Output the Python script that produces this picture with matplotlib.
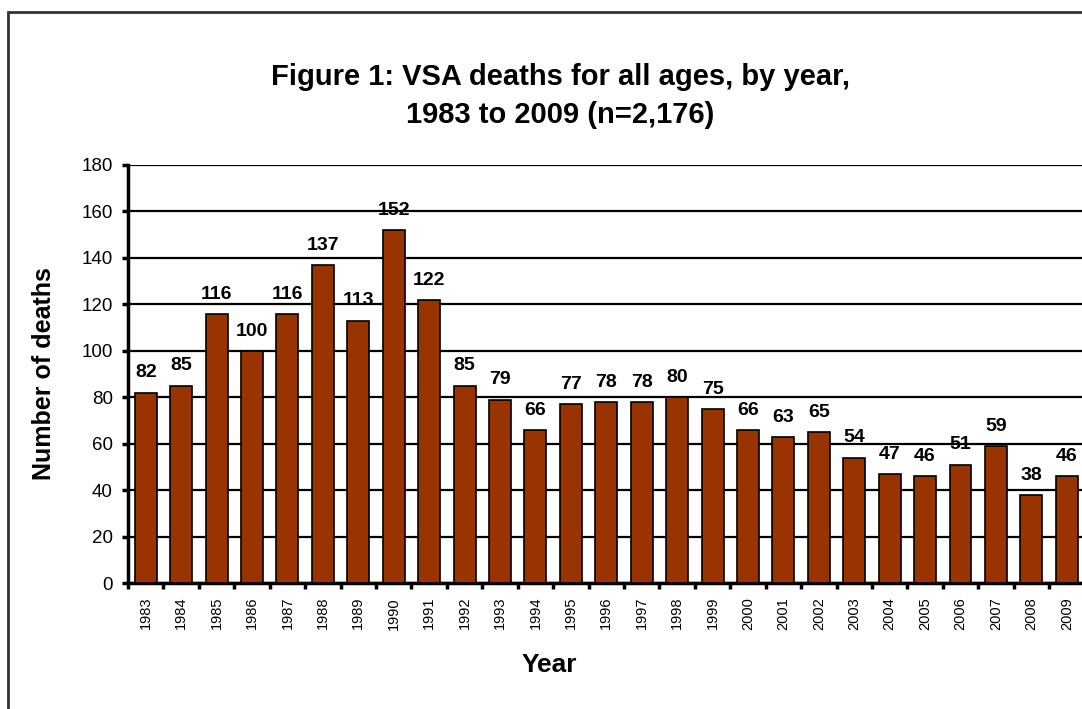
import matplotlib

matplotlib.use("Agg")
import matplotlib.patches as patches
import matplotlib.pyplot as plt
import numpy as np

years = [str(y) for y in range(1983, 2010)]
deaths = [82, 85, 116, 100, 116, 137, 113, 152, 122, 85, 79, 66, 77, 78,
          78, 80, 75, 66, 63, 65, 54, 47, 46, 51, 59, 38, 46]
y_ticks = [0, 20, 40, 60, 80, 100, 120, 140, 160, 180]

title = "Figure 1: VSA deaths for all ages, by year,\n1983 to 2009 (n=2,176)"
bar_color = "#993300"

plt.rcParams["font.family"] = ["Liberation Sans", "DejaVu Sans"]


def main():
    fig = plt.figure(figsize=(10.82, 7.09), dpi=100)
    ax = fig.add_axes([0.1183, 0.1777, 0.884, 0.5896])

    x = np.arange(len(years))
    bars = ax.bar(x, deaths, width=0.62, color=bar_color,
                  edgecolor="black", linewidth=1.2, zorder=3)
    for rect, val in zip(bars, deaths):
        ax.annotate(str(val), (rect.get_x() + rect.get_width() / 2, val),
                    xytext=(0, 8), textcoords="offset points",
                    ha="center", va="bottom", fontsize=14,
                    fontweight="bold", zorder=4)

    ax.set_xlim(-0.5, len(years) - 0.5)
    ax.set_ylim(0, 180)
    ax.set_yticks(y_ticks)
    ax.set_yticklabels([str(t) for t in y_ticks], fontsize=13.5)
    ax.yaxis.grid(True, color="black", linewidth=1.6, zorder=0)
    ax.set_axisbelow(True)

    ax.set_xticks(x)
    ax.set_xticklabels(years, rotation=90, fontsize=10.5)
    ax.set_xticks(np.arange(-0.5, len(years), 1.0), minor=True)
    ax.tick_params(axis="x", which="major", length=0, pad=10)
    ax.tick_params(axis="x", which="minor", length=4, width=2.5,
                   direction="out")
    ax.tick_params(axis="y", length=4, width=2.5, direction="out", pad=7)

    for side in ["left", "bottom"]:
        ax.spines[side].set_linewidth(2.5)
    ax.spines["top"].set_visible(False)
    ax.spines["right"].set_linewidth(1.5)

    ax.set_ylabel("Number of deaths", fontsize=18, fontweight="bold",
                  labelpad=18)
    fig.text(0.508, 0.062, "Year", ha="center", va="center", fontsize=19,
             fontweight="bold")

    fig.text(0.5176, 0.865, title, ha="center", va="center", fontsize=21,
             fontweight="bold", linespacing=1.45)

    frame = patches.Rectangle((0.0074, -0.1), 1.2, 1.083,
                              transform=fig.transFigure, fill=False,
                              edgecolor="#333333", linewidth=2,
                              clip_on=False)
    fig.patches.append(frame)

    fig.savefig("out.png", dpi=100)
    plt.close(fig)


if __name__ == "__main__":
    main()
